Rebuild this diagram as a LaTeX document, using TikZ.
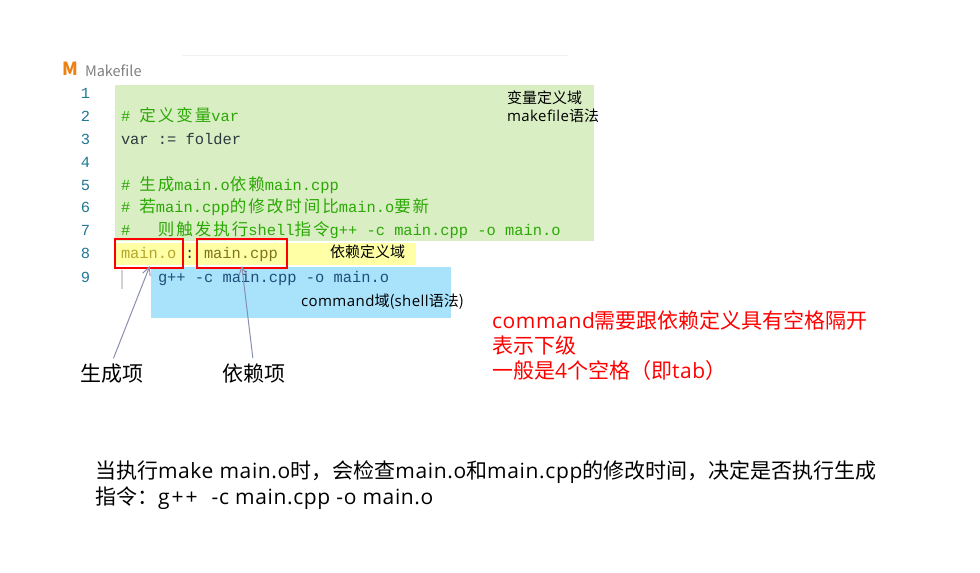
\documentclass[tikz,border=0pt]{standalone}
\usepackage{fontspec}
\setmainfont{Noto Sans CJK SC}
\newfontfamily\codefont{Liberation Mono}
\newfontfamily\cjkfont[LetterSpace=12]{Noto Sans CJK SC}
\newfontfamily\latinfont[LetterSpace=3]{Open Sans}
\newcommand{\pxfont}[1]{\fontsize{\dimexpr #1pt*3/4\relax}{\dimexpr #1pt*9/10\relax}\selectfont}
\newcommand{\cc}[1]{{\cjkfont\pxfont{16.5}#1}}
\newcommand{\la}[1]{{\latinfont #1}}
\usetikzlibrary{arrows.meta}
\definecolor{cgreen}{HTML}{DAEEC4}
\definecolor{cyellow}{HTML}{FFFFA6}
\definecolor{cblue}{HTML}{A8E2FB}
\definecolor{commentc}{HTML}{2BA805}
\definecolor{numc}{HTML}{237893}
\definecolor{codec}{HTML}{2E3A3F}
\definecolor{targetc}{HTML}{B5A62E}
\definecolor{cmdc}{HTML}{1F4F78}
\definecolor{arrowc}{HTML}{8A8FB0}
\tikzset{
 x=0.75pt,y=-0.75pt,
 every node/.style={inner sep=0pt,outer sep=0pt,anchor=base west},
 num/.style={anchor=base east,text=numc,font=\codefont\pxfont{15.4}},
 code/.style={text=codec,font=\codefont\pxfont{15.4}},
 comment/.style={text=commentc,font=\codefont\pxfont{15.4}},
 note/.style={text=black,font=\pxfont{15}},
 big/.style={text=black,font=\pxfont{21}},
 red note/.style={text=red,font=\pxfont{21}},
 redbox/.style={draw=red,line width=1.5pt,minimum height=29*0.75pt,anchor=north west},
 pointer/.style={draw=arrowc,line width=0.75pt,-{Straight Barb[length=6pt,width=6pt]}},
}
\begin{document}
\begin{tikzpicture}
\useasboundingbox (0,0) rectangle (980,573);
\fill[white] (0,0) rectangle (980,573);
\fill[cgreen] (115,85) rectangle (594,241);
\fill[cyellow] (115,243) rectangle (416,265);
\fill[cblue] (151,267) rectangle (451,318);
\draw[black!6,line width=1pt] (182,55.5) -- (568,55.5);
\draw[black!18,line width=0.8pt] (122,270) -- (122,289);

\node[text=orange!70!brown,font=\bfseries\pxfont{18}] (icon) at (62,76) {M};
\node[text=black!50,font=\pxfont{14.5}] (title) at (85,77) {Makefile};

\node[num] (n1) at (90,99) {1};
\node[num] (n2) at (90,122) {2};
\node[num] (n3) at (90,145) {3};
\node[num] (n4) at (90,168) {4};
\node[num] (n5) at (90,191) {5};
\node[num] (n6) at (90,213) {6};
\node[num] (n7) at (90,236) {7};
\node[num] (n8) at (90,259) {8};
\node[num] (n9) at (90,282) {9};

\node[comment] (l2) at (121,122) {\# \cc{定义变量}var};
\node[code] (l3) at (121,145) {var := folder};
\node[comment] (l5) at (121,191) {\# \cc{生成}main.o\cc{依赖}main.cpp};
\node[comment] (l6) at (121,213) {\# \cc{若}main.cpp\cc{的修改时间比}main.o\cc{要新}};
\node[comment] (l7) at (121,236) {\#\ \ \ \cc{则触发执行}shell\cc{指令}g++ -c main.cpp -o main.o};
\node[code,text=targetc] (t1) at (121,259) {main.o};
\node[code] (colon) at (185,259) {:};
\node[code,text=targetc!70!black] (t2) at (204,259) {main.cpp};
\node[code,text=cmdc] (l9) at (158,282) {g++ -c main.cpp -o main.o};

\node[redbox,minimum width=68*0.75pt] (box1) at (115,239) {};
\node[redbox,minimum width=90*0.75pt] (box2) at (197,239) {};

\node[note] (v1) at (507,104) {变量定义域};
\node[note] (v2) at (507,122) {\la{makefile}语法};
\node[note] (v3) at (330,258) {依赖定义域};
\node[note] (v4) at (301,306) {\la{command}域(\la{shell}语法)};

\node[big] (a) at (80,381) {生成项};
\node[big] (b) at (222,381) {依赖项};
\draw[pointer,shorten <=4pt,shorten >=-1.5pt] (a.north) -- (box1.south);
\draw[pointer,shorten <=4pt,shorten >=-1.5pt] (b.north) -- (box2.south);

\node[red note] (r1) at (492,328) {\la{command}需要跟依赖定义具有空格隔开};
\node[red note] (r2) at (492,353) {表示下级};
\node[red note] (r3) at (492,378) {一般是\la{4}个空格（即\la{tab}）};

\node[big] (d1) at (95,478) {当执行\la{make main.o}时，会检查\la{main.o}和\la{main.cpp}的修改时间，决定是否执行生成};
\node[big] (d2) at (95,504) {指令：\la{g\kern1.5pt+\kern1.5pt+\kern1.5pt\ \ -c main.cpp -o main.o}};
\end{tikzpicture}
\end{document}
